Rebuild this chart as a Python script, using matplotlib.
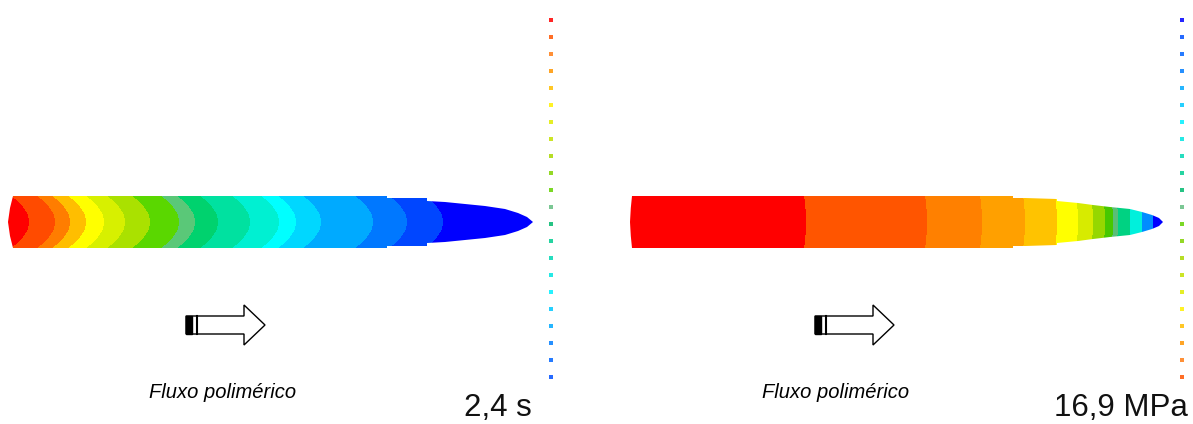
import numpy as np
import matplotlib
matplotlib.use("Agg")
import matplotlib.pyplot as plt
from matplotlib.patches import Polygon, Rectangle

W, H = 1193, 424

# ---- Data -------------------------------------------------------------
# Left panel (fill time, 2,4 s): band boundaries along the flow (px) and band colours
left_edges = [29, 55, 70, 86, 104, 125, 150, 179, 195, 218, 250, 279, 296, 321, 373, 407, 443]
left_colors = ['#ff0000', '#ff4b00', '#ff7d00', '#ffbe00', '#ffff00', '#d7f000',
               '#aae100', '#5ad700', '#5ac878', '#00d26e', '#00e1a0', '#00f0d2',
               '#00ffff', '#00d7ff', '#00aaff', '#0078ff', '#0046ff', '#0000ff']
# part outline (x, half-thickness)
left_prof_x = [13, 387, 387, 427, 427, 445, 465, 485, 505, 518, 527, 533]
left_prof_h = [26, 26, 24, 24, 21, 20, 18, 16, 13, 9, 5, 0]

# Right panel (pressure, 16,9 MPa)
right_edges = [806, 927, 982, 1025, 1057, 1078, 1093, 1105, 1113, 1118, 1130, 1142, 1153]
right_colors = ['#ff0000', '#ff5500', '#ff8000', '#ffa000', '#ffc300', '#ffff00',
                '#d7eb00', '#96d700', '#46c800', '#5abe78', '#00d282', '#00f0dc',
                '#008cff', '#0000ff']
right_prof_x = [632, 1013, 1013, 1025, 1057, 1057, 1078, 1093, 1110, 1130, 1142, 1152, 1159, 1163]
right_prof_h = [26, 26, 24, 24, 23, 21, 19, 17, 15, 13, 10, 7, 4, 0]

# Legend scale colours (blue -> red)
legend_colors = ['#0000ff', '#0050ff', '#0064ff', '#007dff', '#00aaff', '#00c8ff',
                 '#00f0ff', '#00e6e1', '#00d7b4', '#00cd91', '#00b96e', '#64be82',
                 '#64d200', '#82d200', '#aad700', '#c3e100', '#e1eb00', '#fff000',
                 '#ffbe00', '#ff9600', '#ff7d14', '#ff5500', '#ff0000']
n_dots = 22

label_flow = "Fluxo polimérico"
label_left = "2,4 s"
label_right = "16,9 MPa"

# ---- Figure -----------------------------------------------------------
fig = plt.figure(figsize=(W / 100, H / 100), dpi=100)
ax = fig.add_axes([0, 0, 1, 1])
ax.set_xlim(0, W)
ax.set_ylim(H, 0)
ax.axis('off')

YC = 222


def outline(px, ph, left_bulge):
    top = [(x, YC - h) for x, h in zip(px, ph)]
    bot = [(x, YC + h) for x, h in zip(px, ph)][::-1]
    x0 = px[0]
    left = [(x0 - left_bulge * 0.6, YC + 14), (x0 - left_bulge, YC), (x0 - left_bulge * 0.6, YC - 14)]
    return top + bot + left


def draw_part(px, ph, edges, colors, k, bulge):
    x0, x1 = min(px) - bulge - 1, max(px) + 1
    xs = np.arange(x0, x1, 0.5)
    ys = np.arange(YC - 28, YC + 28, 0.5)
    X, Y = np.meshgrid(xs, ys)
    s = X + k * ((Y - YC) / 26.0) ** 2
    idx = np.searchsorted(edges, s, side='right')
    rgb = np.array([matplotlib.colors.to_rgb(c) for c in colors])[idx]
    im = ax.imshow(rgb, extent=(x0, x1, YC + 28, YC - 28), origin='upper',
                   interpolation='nearest', aspect='auto', zorder=2)
    poly = Polygon(outline(px, ph, bulge), closed=True, transform=ax.transData)
    im.set_clip_path(poly)


draw_part(left_prof_x, left_prof_h, left_edges, left_colors, 18, 5)
draw_part(right_prof_x, right_prof_h, right_edges, right_colors, 2, 2)


def draw_arrow(x0, yc=325, body=58, head=21):
    x1 = x0 + body
    x2 = x1 + head
    pts = [(x0, yc - 9), (x1, yc - 9), (x1, yc - 20), (x2, yc), (x1, yc + 20),
           (x1, yc + 9), (x0, yc + 9)]
    ax.add_patch(Polygon(pts, closed=True, facecolor='white', edgecolor='black',
                         lw=1.0, zorder=3))
    ax.add_patch(Rectangle((x0, yc - 9), 6, 18, facecolor='black', edgecolor='black',
                           lw=1.0, zorder=4))
    ax.plot([x0 + 11, x0 + 11], [yc - 9, yc + 9], color='black', lw=1.5, zorder=4)


draw_arrow(186)
draw_arrow(815)

# legend dots
dot_y = np.linspace(20, 377, n_dots)
lc = legend_colors
ax.scatter(np.full(n_dots, 551), dot_y, c=lc[::-1][:n_dots], marker='s', s=12,
           linewidths=0, alpha=0.85, zorder=3)
ax.scatter(np.full(n_dots, 1182), dot_y, c=lc[:n_dots], marker='s', s=12,
           linewidths=0, alpha=0.85, zorder=3)

ax.text(223, 392, label_flow, ha='center', va='center', fontsize=14.5,
        style='italic', family='Liberation Sans', color='black')
ax.text(836, 392, label_flow, ha='center', va='center', fontsize=14.5,
        style='italic', family='Liberation Sans', color='black')
ax.text(532, 408, label_left, ha='right', va='center', fontsize=22.5,
        family='Liberation Sans', color='#111111')
ax.text(1188, 408, label_right, ha='right', va='center', fontsize=22.5,
        family='Liberation Sans', color='#111111')

fig.savefig('out.png', dpi=100)
